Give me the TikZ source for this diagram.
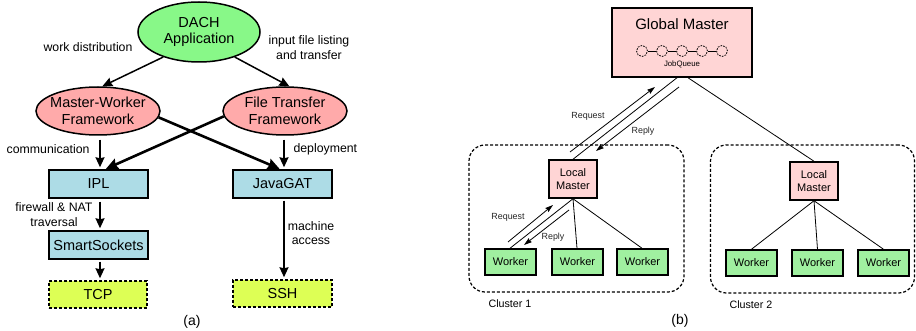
\documentclass[tikz,border=0pt]{standalone}
\usepackage{fontspec}
\setmainfont{Liberation Sans}
\usetikzlibrary{arrows.meta,shapes.geometric}

\definecolor{appgreen}{HTML}{88F888}
\definecolor{fwpink}{HTML}{FFAAAA}
\definecolor{libblue}{HTML}{ADDCE6}
\definecolor{protoyellow}{HTML}{DDFF55}
\definecolor{masterpink}{HTML}{FFD5D5}
\definecolor{workergreen}{HTML}{A0F0A0}

\tikzset{
  bigtext/.style={font=\fontsize{14.5}{16.5}\selectfont},
  lbltext/.style={font=\fontsize{12.3}{14.5}\selectfont, align=center},
  elbox/.style={ellipse, draw, line width=1.5pt, inner sep=0pt},
  libbox/.style={rectangle, draw, line width=1.5pt, fill=libblue, minimum width=99pt, minimum height=28pt, inner sep=0pt, bigtext},
  protobox/.style={rectangle, draw, line width=1.5pt, dashed, dash pattern=on 3pt off 2pt, fill=protoyellow, minimum width=98pt, minimum height=27pt, inner sep=0pt, bigtext},
  arr/.style={-{Stealth[length=10pt,width=9pt,inset=1pt]}, line width=1.5pt},
  thickarr/.style={-{Stealth[length=12pt,width=11pt,inset=1.5pt]}, line width=2.6pt},
  mbox/.style={rectangle, draw, line width=1.5pt, fill=masterpink, inner sep=0pt, align=center},
  wbox/.style={rectangle, draw, line width=1.5pt, fill=workergreen, minimum width=51pt, minimum height=26pt, inner sep=0pt, font=\fontsize{11}{13}\selectfont},
  qcirc/.style={circle, draw, line width=0.8pt, dash pattern=on 1.6pt off 1.2pt, minimum size=11pt, inner sep=0pt},
  clusterbox/.style={rectangle, draw, line width=1.2pt, dash pattern=on 3pt off 2pt, rounded corners=16pt, inner sep=0pt},
  link/.style={line width=0.8pt},
  msgarr/.style={-{Stealth[length=8pt,width=5pt,inset=1pt]}, line width=0.8pt},
  msgtext/.style={font=\fontsize{8.9}{10}\selectfont, text=black!85},
  captext/.style={font=\fontsize{14}{16}\selectfont},
}

\begin{document}
\begin{tikzpicture}[x=1pt,y=-1pt]
\useasboundingbox (0,0) rectangle (916,331);

% ---------- (a) software stack ----------
\node[elbox, fill=appgreen, minimum width=122pt, minimum height=60pt,
      label={[bigtext, align=center]center:DACH\\Application}] (dach) at (199,32) {};
\node[elbox, fill=fwpink, minimum width=124pt, minimum height=48pt,
      label={[bigtext, align=center]center:Master-Worker\\Framework}] (mw) at (98,111) {};
\node[elbox, fill=fwpink, minimum width=124pt, minimum height=48pt,
      label={[bigtext, align=center]center:File Transfer\\Framework}] (ft) at (285,111) {};

\node[libbox] (ipl) at (98.5,184) {IPL};
\node[libbox] (jgat) at (282.5,184) {JavaGAT};
\node[libbox] (ss) at (98.5,245) {SmartSockets};
\node[protobox] (tcp) at (98,294.5) {TCP};
\node[protobox, minimum width=99pt] (ssh) at (282.5,293.5) {SSH};

\draw[arr] (dach.215) -- (mw.80);
\draw[arr] (dach.325) -- (ft.80);
\draw[arr, shorten <=4pt, shorten >=2pt] ([xshift=2pt]mw.south) -- ([xshift=1.5pt]ipl.north);
\draw[arr, shorten <=4pt, shorten >=2pt] ([xshift=-1pt]ft.south) -- ([xshift=1.5pt]jgat.north);
\draw[thickarr, shorten >=1pt] (mw.354) -- ([xshift=-2pt]jgat.north);
\draw[thickarr, shorten >=1pt] (ft.185) -- ([xshift=6.5pt]ipl.north);
\draw[arr, shorten <=3pt, shorten >=2pt] ([xshift=1.5pt]ipl.south) -- ([xshift=1.5pt]ss.north);
\draw[arr, shorten <=2pt, shorten >=2pt] ([xshift=1.5pt]ss.south) -- ([xshift=2pt]tcp.north);
\draw[arr, shorten <=2pt, shorten >=2pt] ([xshift=1.5pt]jgat.south) -- ([xshift=1.5pt]ssh.north);

\node[lbltext] (lwd) at (88,47) {work distribution};
\node[lbltext] (lif) at (309,47.5) {input file listing\\and transfer};
\node[lbltext, anchor=east] (lcom) at (93,149) {communication};
\node[lbltext, anchor=west] (ldep) at (290,149) {deployment};
\node[lbltext] (lfw) at (54,214.5) {firewall \& NAT\\traversal};
\node[lbltext] (lma) at (311,233) {machine\\access};
\node[captext] (capa) at (192,322) {(a)};

% ---------- (b) hierarchical master-worker ----------
\node[clusterbox, minimum width=215pt, minimum height=147pt] (cl1) at (576.5,218.5) {};
\node[clusterbox, minimum width=204pt, minimum height=148pt] (cl2) at (812.5,219) {};

\node[mbox, minimum width=140pt, minimum height=69pt] (gm) at (682,42.5) {};
\node[font=\fontsize{15}{17}\selectfont] (gmt) at (682,24) {Global Master};
\foreach \i/\x in {1/642,2/662,3/682,4/702,5/722}
  \node[qcirc] (q\i) at (\x,51) {};
\foreach \i/\j in {1/2,2/3,3/4,4/5}
  \draw[line width=0.8pt] (q\i) -- (q\j);
\node[font=\fontsize{7.8}{9}\selectfont] (jq) at (682,64) {JobQueue};

\node[mbox, minimum width=48pt, minimum height=38pt, font=\fontsize{11}{13}\selectfont] (lm1) at (573,179) {Local\\Master};
\node[mbox, minimum width=48pt, minimum height=38pt, font=\fontsize{11}{13}\selectfont] (lm2) at (814,181) {Local\\Master};

\node[wbox] (w11) at (510.5,262) {Worker};
\node[wbox] (w12) at (577.5,262) {Worker};
\node[wbox] (w13) at (642.5,262) {Worker};
\node[wbox] (w21) at (751.5,263) {Worker};
\node[wbox] (w22) at (817.5,263) {Worker};
\node[wbox] (w23) at (883.5,263) {Worker};

\draw[link] ([xshift=-5pt]gm.south) -- (lm1.north);
\draw[link] ([xshift=6pt]gm.south) -- (lm2.north);
\foreach \w in {w11,w12,w13} \draw[link] (lm1.south) -- ([xshift=-0.5pt]\w.north);
\foreach \w in {w21,w22,w23} \draw[link] (lm2.south) -- (\w.north);

% request / reply messages
\coordinate (rqa) at (570,152);
\coordinate (rqb) at (655,87);
\coordinate (rpa) at (679,87);
\coordinate (rpb) at (596,151);
\draw[msgarr] (rqa) -- (rqb);
\draw[msgarr] (rpa) -- (rpb);
\coordinate (rqc) at (508,242);
\coordinate (rqd) at (553,205);
\coordinate (rpc) at (569,210);
\coordinate (rpd) at (524,245);
\draw[msgarr] (rqc) -- (rqd);
\draw[msgarr] (rpc) -- (rpd);

\node[msgtext] (trq1) at (588,116) {Request};
\node[msgtext] (trp1) at (643,131) {Reply};
\node[msgtext] (trq2) at (508,217) {Request};
\node[msgtext] (trp2) at (553,237) {Reply};

\node[font=\fontsize{10.7}{12}\selectfont] (tc1) at (510,304) {Cluster 1};
\node[font=\fontsize{10.7}{12}\selectfont] (tc2) at (751,305) {Cluster 2};
\node[captext] (capb) at (680,321) {(b)};
\end{tikzpicture}
\end{document}
